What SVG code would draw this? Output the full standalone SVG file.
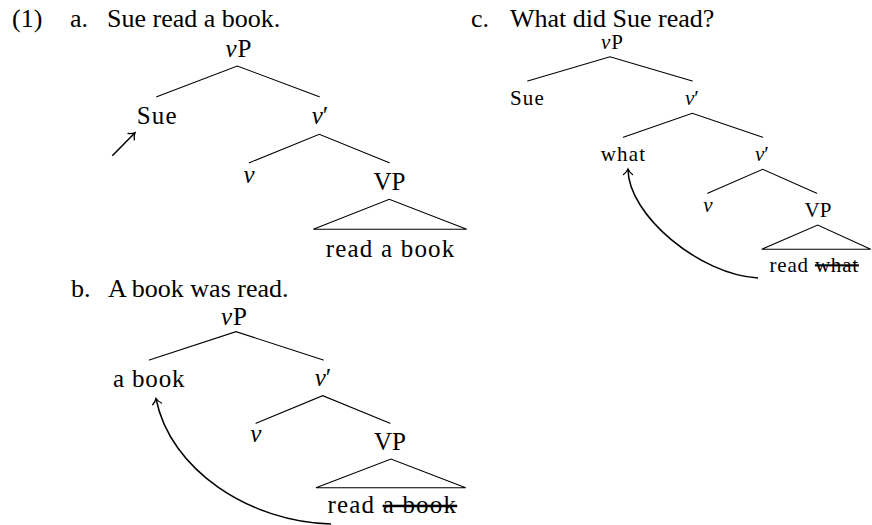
<svg xmlns="http://www.w3.org/2000/svg" width="872" height="525" viewBox="0 0 872 525">
  <style>
    text { font-family: "Liberation Serif", "Tinos", "DejaVu Serif", serif; fill: #000; }
    .hd { font-size: 26px; }
    .lb { font-size: 25px; text-anchor: middle; }
    .sm { font-size: 21px; }
    .it { font-style: italic; }
    .wd { letter-spacing: 1.2px; }
    .br { stroke: #000; stroke-width: 1.1; fill: none; stroke-linecap: round; }
    .mv { stroke: #000; stroke-width: 1.5; fill: none; }
  </style>
  <defs>
    <marker id="tip" markerUnits="userSpaceOnUse" markerWidth="12" markerHeight="12" viewBox="-7 -6 8 12" refX="0" refY="0" orient="auto" overflow="visible">
      <path d="M -5.5 -4.5 C -3.5 -1.8 -1.2 -0.5 0 0 C -1.2 0.5 -3.5 1.8 -5.5 4.5" fill="none" stroke="#000" stroke-width="1.3" stroke-linecap="round"/>
    </marker>
  </defs>

  <!-- example headings -->
  <g id="headings">
    <text class="hd" x="12" y="27">(1)</text>
    <text class="hd" x="70" y="27">a.</text>
    <text class="hd" x="107" y="27">Sue read a book.</text>
    <text class="hd" x="71" y="296.5">b.</text>
    <text class="hd" x="108" y="296.5">A book was read.</text>
    <text class="hd" x="471" y="26.5">c.</text>
    <text class="hd" x="510" y="26.5">What did Sue read?</text>
  </g>

  <!-- tree (a) -->
  <g id="a-vP"><text class="lb" x="238.5" y="57"><tspan class="it">v</tspan><tspan dx="1">P</tspan></text></g>
  <g id="a-Sue"><text class="lb wd" x="157.3" y="124">Sue</text></g>
  <g id="a-vbar"><text class="lb" x="320" y="124"><tspan class="it">v</tspan>′</text></g>
  <g id="a-v"><text class="lb it" x="249" y="182.7">v</text></g>
  <g id="a-VP"><text class="lb" x="389.5" y="190">VP</text></g>
  <g id="a-read"><text class="lb wd" x="390.6" y="256.7">read a book</text></g>

  <!-- tree (b) -->
  <g id="b-vP"><text class="lb" x="234" y="325"><tspan class="it">v</tspan><tspan dx="1">P</tspan></text></g>
  <g id="b-abook"><text class="lb" x="149.2" y="386.5" style="letter-spacing:0.8px">a book</text></g>
  <g id="b-vbar"><text class="lb" x="323" y="386"><tspan class="it">v</tspan>′</text></g>
  <g id="b-v"><text class="lb it" x="255.8" y="441.7">v</text></g>
  <g id="b-VP"><text class="lb" x="390" y="450">VP</text></g>
  <g id="b-read">
    <text class="lb wd" x="392.3" y="513.3">read <tspan text-decoration="line-through">a book</tspan></text>
  </g>

  <!-- tree (c) -->
  <g id="c-vP"><text class="lb sm" x="612" y="49"><tspan class="it">v</tspan><tspan dx="1">P</tspan></text></g>
  <g id="c-Sue"><text class="lb sm wd" x="527.5" y="105">Sue</text></g>
  <g id="c-vbar1"><text class="lb sm" x="692" y="105"><tspan class="it">v</tspan>′</text></g>
  <g id="c-what"><text class="lb sm wd" x="623.5" y="161">what</text></g>
  <g id="c-vbar2"><text class="lb sm" x="762" y="161"><tspan class="it">v</tspan>′</text></g>
  <g id="c-v"><text class="lb sm it" x="708" y="212.3">v</text></g>
  <g id="c-VP"><text class="lb sm" x="818" y="217.3">VP</text></g>
  <g id="c-read">
    <text class="lb sm" x="814.2" y="271.7" style="letter-spacing:0.8px">read <tspan text-decoration="line-through">what</tspan></text>
  </g>

  <!-- branches, triangles and movement arrows -->
  <g id="connectors">
    <path class="br" d="M 156.7 96.7 L 237.3 66 L 319.3 96.7"/>
    <path class="br" d="M 249.3 162.7 L 319.3 134.3 L 389.3 162.7"/>
    <path class="br" d="M 313.3 229.3 L 389.3 199.3 L 466.7 229.3 Z"/>
    <line class="mv" x1="112.3" y1="155.7" x2="135" y2="132.7" marker-end="url(#tip)"/>

    <path class="br" d="M 149.3 360 L 236 331.7 L 323.3 360"/>
    <path class="br" d="M 256 423.3 L 322.7 395.7 L 390 423.3"/>
    <path class="br" d="M 316 487.7 L 391 459 L 465.7 487.7 Z"/>
    <path class="mv" d="M 331 524 C 250 522 170 470 156 398.5" marker-end="url(#tip)"/>

    <path class="br" d="M 527.7 81 L 610 56.7 L 692.3 81"/>
    <path class="br" d="M 623.3 137.3 L 692.3 113.3 L 762.7 137.3"/>
    <path class="br" d="M 707.7 193.3 L 762.7 169.3 L 816.7 193.3"/>
    <path class="br" d="M 761.7 249.3 L 817.7 225 L 870.7 249.3 Z"/>
    <path class="mv" d="M 758 278 C 700 275 628 215 628 169" marker-end="url(#tip)"/>
  </g>
</svg>
